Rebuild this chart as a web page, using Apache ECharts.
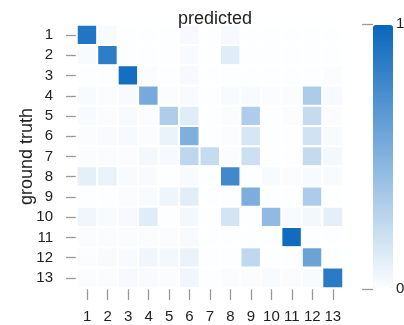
<!DOCTYPE html>
<html>
<head>
<meta charset="utf-8">
<script src="https://cdn.jsdelivr.net/npm/echarts@6/dist/echarts.min.js"></script>
<style>html,body{margin:0;padding:0;background:#fff}#c{width:404px;height:325px}</style>
</head>
<body>
<div id="c"></div>
<script>
var predictedLabels = ['1','2','3','4','5','6','7','8','9','10','11','12','13'];
var truthLabels = ['1','2','3','4','5','6','7','8','9','10','11','12','13'];
var colorbarTicks = [0, 1];
// rows = ground truth, columns = predicted
var row1  = [0.90,0.02,0.00,0.00,0.00,0.03,0.00,0.03,0.00,0.00,0.00,0.00,0.00];
var row2  = [0.02,0.85,0.00,0.00,0.00,0.02,0.00,0.12,0.00,0.00,0.00,0.00,0.00];
var row3  = [0.00,0.00,0.95,0.01,0.00,0.03,0.00,0.00,0.00,0.00,0.00,0.00,0.01];
var row4  = [0.02,0.01,0.02,0.55,0.01,0.02,0.00,0.02,0.02,0.01,0.01,0.33,0.03];
var row5  = [0.02,0.01,0.02,0.01,0.32,0.12,0.00,0.01,0.32,0.00,0.01,0.23,0.01];
var row6  = [0.01,0.02,0.03,0.01,0.08,0.52,0.00,0.01,0.16,0.00,0.00,0.18,0.02];
var row7  = [0.01,0.01,0.01,0.04,0.03,0.26,0.23,0.01,0.20,0.00,0.00,0.24,0.04];
var row8  = [0.10,0.08,0.02,0.02,0.00,0.02,0.00,0.77,0.00,0.02,0.01,0.02,0.02];
var row9  = [0.00,0.00,0.01,0.02,0.06,0.11,0.00,0.00,0.53,0.00,0.00,0.33,0.00];
var row10 = [0.05,0.02,0.03,0.12,0.00,0.04,0.00,0.17,0.00,0.45,0.02,0.04,0.10];
var row11 = [0.01,0.01,0.01,0.01,0.01,0.02,0.00,0.00,0.00,0.00,0.97,0.00,0.00];
var row12 = [0.01,0.02,0.02,0.05,0.04,0.08,0.00,0.00,0.25,0.00,0.00,0.60,0.00];
var row13 = [0.01,0.01,0.03,0.02,0.01,0.05,0.00,0.01,0.01,0.02,0.01,0.02,0.87];
var rows = [row1,row2,row3,row4,row5,row6,row7,row8,row9,row10,row11,row12,row13];

var data = [];
rows.forEach(function (r, yi) {
  r.forEach(function (v, xi) { data.push([xi, yi, v]); });
});

var chart = echarts.init(document.getElementById('c'), null, {renderer: 'canvas'});
var labelFont = {fontFamily: 'Liberation Sans', fontSize: 15, color: '#222'};
chart.setOption({
  animation: false,
  backgroundColor: '#fff',
  title: {
    text: 'predicted', left: 210, top: 5, textAlign: 'center',
    textStyle: {fontFamily: 'Liberation Sans', fontSize: 18, fontWeight: 'normal', color: '#222'}
  },
  grid: [
    {left: 77, top: 25, width: 266, height: 263},
    {left: 373, top: 24, width: 20, height: 265}
  ],
  xAxis: [
    {
      type: 'category', data: predictedLabels, gridIndex: 0, position: 'bottom',
      axisLine: {show: false},
      axisTick: {show: true, alignWithLabel: true, interval: 0, length: 12, lineStyle: {color: '#999', width: 1.3}},
      axisLabel: Object.assign({margin: 21, interval: 0, hideOverlap: false}, labelFont),
      splitLine: {show: false}
    },
    {type: 'value', gridIndex: 1, show: false, min: 0, max: 1}
  ],
  yAxis: [
    {
      type: 'category', data: truthLabels, gridIndex: 0, inverse: true,
      name: 'ground truth', nameLocation: 'middle', nameGap: 41, nameRotate: 90,
      nameMoveOverlap: false,
      nameTextStyle: {fontFamily: 'Liberation Sans', fontSize: 18, color: '#222'},
      axisLine: {show: false},
      axisTick: {show: true, alignWithLabel: true, interval: 0, length: 11, lineStyle: {color: '#999', width: 1.3}},
      axisLabel: Object.assign({margin: 24, interval: 0}, labelFont),
      splitLine: {show: false}
    },
    {
      type: 'value', gridIndex: 1, min: colorbarTicks[0], max: colorbarTicks[1], interval: 1,
      position: 'left',
      axisLine: {show: false},
      axisTick: {show: true, inside: false, length: 11, lineStyle: {color: '#999', width: 1.3}},
      axisLabel: Object.assign({inside: true, margin: 23}, labelFont),
      splitLine: {show: false}
    }
  ],
  visualMap: {
    type: 'continuous', min: 0, max: 1, calculable: false, show: true,
    orient: 'vertical', left: 373, top: 25, itemWidth: 20, itemHeight: 263,
    padding: 0, text: null, seriesIndex: 0,
    inRange: {color: ['#fdfeff', '#0a66bd']}
  },
  series: [{
    type: 'heatmap', xAxisIndex: 0, yAxisIndex: 0, data: data,
    itemStyle: {borderColor: '#fff', borderWidth: 2},
    emphasis: {disabled: true}
  }]
});
</script>
</body>
</html>
